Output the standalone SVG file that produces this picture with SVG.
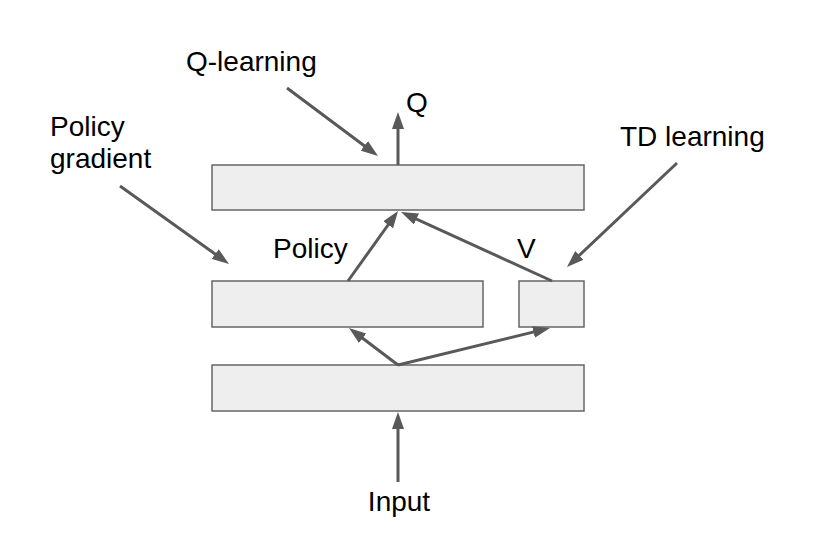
<svg xmlns="http://www.w3.org/2000/svg" width="832" height="552" viewBox="0 0 832 552">
<style>
.box{fill:#eeeeee;stroke:#666666;stroke-width:1.5}
.arr{stroke:#595959;stroke-width:3;fill:none;marker-end:url(#ah)}
.lbl{font-family:"Liberation Sans",Arial,sans-serif;font-size:28px;fill:#000000}
</style>
<defs>
<marker id="ah" markerUnits="userSpaceOnUse" markerWidth="17" markerHeight="12" refX="9" refY="6" orient="auto" viewBox="0 0 17 12">
<path d="M0,0 L17,6 L0,12 z" fill="#595959"/>
</marker>
</defs>
<rect width="832" height="552" fill="#ffffff"/>
<g id="q-layer"><rect class="box" x="212" y="165" width="372" height="45"/></g>
<g id="policy-layer"><rect class="box" x="212" y="281" width="271" height="46"/></g>
<g id="v-layer"><rect class="box" x="519" y="281" width="65" height="46"/></g>
<g id="base-layer"><rect class="box" x="212" y="365" width="372" height="46"/></g>
<g id="connectors">
<line class="arr" x1="398" y1="165" x2="398" y2="120"/>
<line class="arr" x1="287" y1="88" x2="371.6" y2="151.2"/>
<line class="arr" x1="120" y1="186" x2="222.5" y2="259.3"/>
<line class="arr" x1="348" y1="281" x2="393.4" y2="217.5"/>
<line class="arr" x1="552" y1="281" x2="408.3" y2="215.3"/>
<line class="arr" x1="398" y1="365" x2="355.4" y2="332.8"/>
<line class="arr" x1="398" y1="365" x2="542.2" y2="329.9"/>
<line class="arr" x1="677" y1="163" x2="572.8" y2="261.5"/>
<line class="arr" x1="398" y1="482" x2="398" y2="420"/>
</g>
<g id="labels">
<text class="lbl" x="186" y="71">Q-learning</text>
<text class="lbl" x="406" y="112">Q</text>
<text class="lbl" x="50" y="136">Policy</text>
<text class="lbl" x="50" y="168">gradient</text>
<text class="lbl" x="620" y="146">TD learning</text>
<text class="lbl" x="273" y="258">Policy</text>
<text class="lbl" x="517" y="258">V</text>
<text class="lbl" x="399" y="511" text-anchor="middle">Input</text>
</g>
</svg>
